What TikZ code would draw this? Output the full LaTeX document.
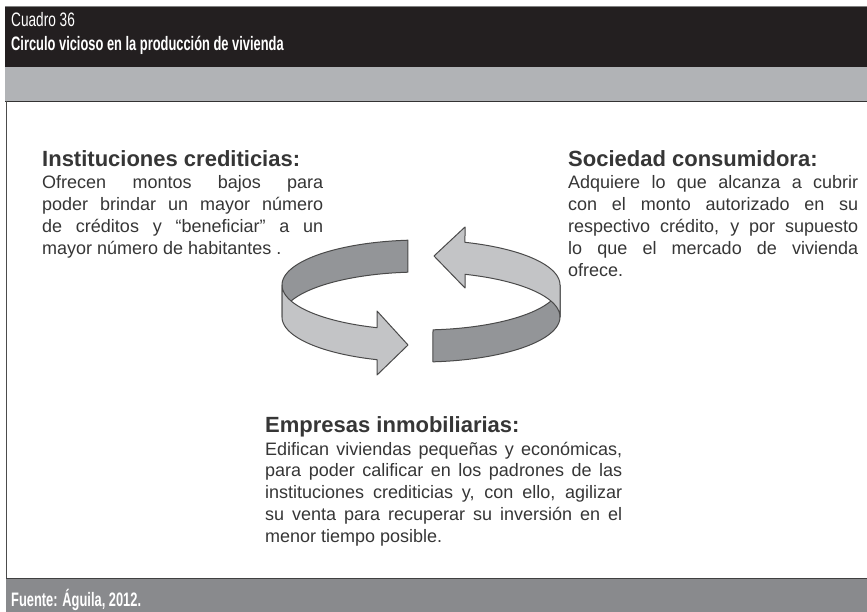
\documentclass[tikz,border=0pt]{standalone}
\usepackage{fontspec}
\setmainfont{Liberation Sans}
\newfontfamily\condfont[FakeStretch=0.70]{Liberation Sans}
\newfontfamily\condbold[FakeStretch=0.66]{Liberation Sans Bold}
\definecolor{hdrblack}{HTML}{231F20}
\definecolor{bandgray}{HTML}{B1B3B6}
\definecolor{footgray}{HTML}{898A8D}
\definecolor{txt}{HTML}{363636}
\definecolor{ringlight}{HTML}{C3C4C6}
\definecolor{ringdark}{HTML}{939598}
\definecolor{ringline}{HTML}{4A4A4A}
\newcommand{\jl}[1]{\makebox[\linewidth][s]{#1}}
\tikzset{
  hdr/.style={inner sep=0pt, text=white},
  head/.style={inner sep=0pt, text=txt, font=\fontsize{22}{22}\selectfont\bfseries},
  bodytext/.style={inner sep=0pt, text=txt, font=\fontsize{18}{21.9}\selectfont},
  ringpart/.style={draw=ringline, line width=1pt, line join=round}
}
\begin{document}
\begin{tikzpicture}[x=1pt,y=-1pt]
\useasboundingbox (0,0) rectangle (867,612);
\fill[white] (0,0) rectangle (867,612);
% frame
\fill[hdrblack] (5,6) rectangle (867,67);
\draw[gray, line width=0.8pt] (5,6.4) -- (867,6.4);
\fill[bandgray] (5,67) rectangle (867,101);
\draw[line width=1pt, black!80] (5,101.5) -- (867,101.5);
\draw[line width=0.8pt, black!70] (6.5,101.5) -- (6.5,578);
\fill[footgray] (6,578) rectangle (867,612);
\draw[line width=1pt, black!75] (6,578) -- (867,578);
% header texts
\node[hdr, anchor=base west] (cuadro) at (11,27) {\condfont\fontsize{19.5}{20}\selectfont Cuadro 36};
\node[hdr, anchor=base west] (titulo) at (11,50.5) {\condbold\fontsize{19.5}{20}\selectfont Circulo vicioso en la producción de vivienda};
\node[hdr, anchor=base west] (fuente) at (11,606) {\condbold\fontsize{19.5}{20}\selectfont Fuente: Águila, 2012.};
% left block
\node[head, anchor=base west] (insth) at (42,167) {Instituciones crediticias:};
\node[bodytext, anchor=base west] (instb) at (42,189) {\parbox[t]{281pt}{\fontsize{18}{21.9}\selectfont
\jl{Ofrecen montos bajos para}\\
\jl{poder brindar un mayor número}\\
\jl{de créditos y “beneficiar” a un}\\
mayor número de habitantes .}};
% right block
\node[head, anchor=base west] (soch) at (568,167) {Sociedad consumidora:};
\node[bodytext, anchor=base west] (socb) at (568,189) {\parbox[t]{290pt}{\fontsize{18}{21.9}\selectfont
\jl{Adquiere lo que alcanza a cubrir}\\
\jl{con el monto autorizado en su}\\
\jl{respectivo crédito, y por supuesto}\\
\jl{lo que el mercado de vivienda}\\
ofrece.}};
% bottom block
\node[head, anchor=base west] (emph) at (265,432) {Empresas inmobiliarias:};
\node[bodytext, anchor=base west] (empb) at (265,455) {\parbox[t]{357pt}{\fontsize{18}{21.75}\selectfont
\jl{Edifican viviendas pequeñas y económicas,}\\
\jl{para poder calificar en los padrones de las}\\
\jl{instituciones crediticias y, con ello, agilizar}\\
\jl{su venta para recuperar su inversión en el}\\
menor tiempo posible.}};
% ring arrows: dark parts first
\filldraw[ringpart, fill=ringdark]
  plot[domain=180:264.6, samples=40] ({421+139*cos(\x)},{285+45*sin(\x)})
  -- plot[domain=264.6:180, samples=40] ({421+139*cos(\x)},{317+45*sin(\x)}) -- cycle;
\filldraw[ringpart, fill=ringdark]
  plot[domain=0:85.05, samples=40] ({421+139*cos(\x)},{285+45*sin(\x)})
  -- plot[domain=85.05:0, samples=40] ({421+139*cos(\x)},{317+45*sin(\x)}) -- cycle;
% light parts
\filldraw[ringpart, fill=ringlight]
  plot[domain=180:108.45, samples=40] ({421+139*cos(\x)},{285+45*sin(\x)})
  -- (377,311) -- (408,345) -- (377,375) -- (377,359.7)
  -- plot[domain=108.45:180, samples=40] ({421+139*cos(\x)},{317+45*sin(\x)}) -- cycle;
\filldraw[ringpart, fill=ringlight]
  plot[domain=360:288.45, samples=40] ({421+139*cos(\x)},{285+45*sin(\x)})
  -- (465,227) -- (434,256) -- (465,288) -- (465,274.3)
  -- plot[domain=288.45:360, samples=40] ({421+139*cos(\x)},{317+45*sin(\x)}) -- cycle;
\end{tikzpicture}
\end{document}
